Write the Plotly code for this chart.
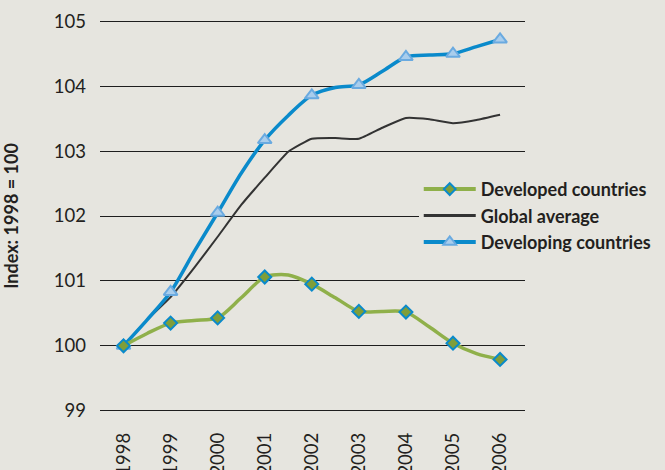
import plotly.graph_objects as go

# Half-year sample points (markers only at whole years)
x_half = [1998, 1998.5, 1999, 1999.5, 2000, 2000.5, 2001, 2001.5, 2002,
          2002.5, 2003, 2003.5, 2004, 2004.5, 2005, 2005.5, 2006]
years = [1998, 1999, 2000, 2001, 2002, 2003, 2004, 2005, 2006]
year_labels = ["1998", "1999", "2000", "2001", "2002", "2003", "2004", "2005", "2006"]

developing = [100.0, 100.40, 100.83, 101.45, 102.05, 102.66, 103.17, 103.55, 103.86,
              103.98, 104.02, 104.23, 104.45, 104.48, 104.50, 104.61, 104.72]
global_avg = [100.0, 100.40, 100.75, 101.20, 101.68, 102.17, 102.59, 102.99, 103.19,
              103.20, 103.19, 103.36, 103.51, 103.49, 103.43, 103.48, 103.56]
developed = [100.0, 100.19, 100.35, 100.39, 100.43, 100.74, 101.06, 101.09, 100.95,
             100.74, 100.53, 100.53, 100.52, 100.29, 100.04, 99.88, 99.79]

y_ticks = [99, 100, 101, 102, 103, 104, 105]

BG = "#e6e5df"
TXT = "#231f20"
BLUE = "#0a8acb"
GREEN = "#8fb04a"
BLACK = "#333333"
TRI_FILL = "#a9cdec"
TRI_LINE = "#6aaae0"

fig = go.Figure()

# data lines
fig.add_trace(go.Scatter(x=x_half, y=global_avg, mode="lines", showlegend=False,
                         line=dict(color=BLACK, width=2, shape="spline", smoothing=0.4),
                         hoverinfo="skip"))
fig.add_trace(go.Scatter(x=x_half, y=developing, mode="lines", showlegend=False,
                         line=dict(color=BLUE, width=3.5, shape="spline", smoothing=0.8),
                         hoverinfo="skip"))
fig.add_trace(go.Scatter(x=years, y=developing[::2], mode="markers", showlegend=False,
                         marker=dict(symbol="triangle-up", size=12, color=TRI_FILL,
                                     line=dict(color=TRI_LINE, width=2))))
fig.add_trace(go.Scatter(x=x_half, y=developed, mode="lines", showlegend=False,
                         line=dict(color=GREEN, width=3.5, shape="spline", smoothing=0.8),
                         hoverinfo="skip"))
fig.add_trace(go.Scatter(x=years, y=developed[::2], mode="markers", showlegend=False,
                         marker=dict(symbol="diamond", size=10, color="#7f9e3a",
                                     line=dict(color=BLUE, width=2))))

# legend-only entries
fig.add_trace(go.Scatter(x=[None], y=[None], mode="lines+markers", name="Developed countries",
                         line=dict(color=GREEN, width=4),
                         marker=dict(symbol="diamond", size=9, color="#7f9e3a",
                                     line=dict(color=BLUE, width=2)),
                         legendrank=1))
fig.add_trace(go.Scatter(x=[None], y=[None], mode="lines", name="Global average",
                         line=dict(color=BLACK, width=3), legendrank=2))
fig.add_trace(go.Scatter(x=[None], y=[None], mode="lines+markers", name="Developing countries",
                         line=dict(color=BLUE, width=4),
                         marker=dict(symbol="triangle-up", size=11, color=TRI_FILL,
                                     line=dict(color=TRI_LINE, width=2)),
                         legendrank=3))

fig.update_layout(
    width=665, height=470,
    paper_bgcolor=BG, plot_bgcolor=BG,
    margin=dict(l=100, r=140, t=20, b=58, autoexpand=False),
    font=dict(family="Lato", color=TXT, size=18.5),
    showlegend=True,
    legend=dict(x=0.75, xanchor="left", y=0.615, yanchor="top",
                bgcolor=BG, borderwidth=0, itemwidth=52,
                font=dict(family="Lato", size=18, color=TXT, weight="bold"),
                tracegroupgap=0, itemclick=False),
    xaxis=dict(range=[1997.5, 2006.53], tickvals=years, ticktext=year_labels,
               tickangle=-90, showgrid=False, zeroline=False, showline=False,
               ticks="", ticklabelstandoff=16, automargin=False,
               tickfont=dict(size=18.5, color=TXT)),
    yaxis=dict(range=[98.98, 105.02], tickvals=y_ticks, showgrid=True, gridcolor="#1e1e1e",
               gridwidth=1.3, zeroline=False, showline=False, ticks="",
               ticklabelstandoff=13, automargin=False,
               tickfont=dict(size=18.5, color=TXT),
               title=dict(text="Index: 1998 = 100", standoff=30,
                          font=dict(size=18, color=TXT, weight="bold"))),
    hovermode=False,
)

fig.write_html("out.html", config={"displayModeBar": False},
               post_script="document.body.style.margin='0';document.body.style.background='%s';" % BG)
